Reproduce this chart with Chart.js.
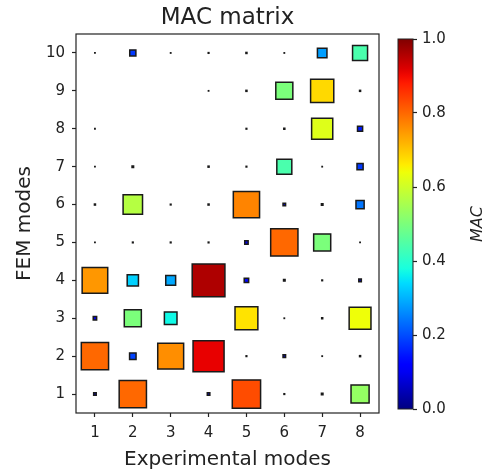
<!DOCTYPE html>
<html>
<head>
<meta charset="utf-8">
<script src="https://cdn.jsdelivr.net/npm/chart.js@4.4.0/dist/chart.umd.min.js"></script>
<style>
  html, body { margin: 0; padding: 0; background: #fff; }
  #wrap { position: relative; width: 493px; height: 473px; overflow: hidden; }
  #macChart { position: absolute; left: 0; top: 0; }
  #barChart { position: absolute; left: 380px; top: 0; }
</style>
</head>
<body>
<div id="wrap">
  <canvas id="macChart" width="380" height="473"></canvas>
  <canvas id="barChart" width="113" height="473"></canvas>
</div>
<script>
// ── data ─────────────────────────────────────────────────────────────────────
const expModes = [1, 2, 3, 4, 5, 6, 7, 8];
const femModes = [1, 2, 3, 4, 5, 6, 7, 8, 9, 10];

// MAC value per experimental mode (1..8), one array per FEM mode
const femMode1  = [0.075, 0.80, 0,    0.075, 0.83, 0.02,  0.045, 0.53];
const femMode2  = [0.80,  0.19, 0.76, 0.91,  0.02, 0.075, 0.01,  0.03];
const femMode3  = [0.10,  0.50, 0.37, 0,     0.67, 0.01,  0.03,  0.64];
const femMode4  = [0.75,  0.33, 0.29, 0.96,  0.13, 0.045, 0.02,  0.075];
const femMode5  = [0.01,  0.02, 0.02, 0.02,  0.10, 0.80,  0.50,  0.01];
const femMode6  = [0.03,  0.57, 0.02, 0.03,  0.77, 0.075, 0.045, 0.24];
const femMode7  = [0.01,  0.045, 0,   0.03,  0.02, 0.44,  0.01,  0.18];
const femMode8  = [0.01,  0,    0,    0,     0.02, 0.03,  0.62,  0.15];
const femMode9  = [0,     0,    0,    0.01,  0.03, 0.50,  0.68,  0.03];
const femMode10 = [0.01,  0.18, 0.01, 0.02,  0.03, 0.01,  0.28,  0.44];
const macRows = [femMode1, femMode2, femMode3, femMode4, femMode5,
                 femMode6, femMode7, femMode8, femMode9, femMode10];

const cbTicks = [0, 0.2, 0.4, 0.6, 0.8, 1.0];

// ── helpers ──────────────────────────────────────────────────────────────────
const FONT = 'DejaVu Sans';
const INK  = '#222';

// matplotlib "jet"
const JET_R = [[0, 0], [0.35, 0], [0.66, 1], [0.89, 1], [1, 0.5]];
const JET_G = [[0, 0], [0.125, 0], [0.375, 1], [0.64, 1], [0.91, 0], [1, 0]];
const JET_B = [[0, 0.5], [0.11, 1], [0.34, 1], [0.65, 0], [1, 0]];

function _seg(pts, v) {
  for (let i = 1; i < pts.length; i++) {
    if (v <= pts[i][0]) {
      const [x0, y0] = pts[i - 1], [x1, y1] = pts[i];
      return y0 + (y1 - y0) * (v - x0) / (x1 - x0);
    }
  }
  return pts[pts.length - 1][1];
}

function jet(v) {
  v = Math.min(1, Math.max(0, v));
  const c = [JET_R, JET_G, JET_B].map(p => Math.round(_seg(p, v) * 255));
  return `rgb(${c[0]},${c[1]},${c[2]})`;
}

const points = [];
macRows.forEach((row, i) => row.forEach((v, j) => {
  if (v > 0) points.push({ x: expModes[j], y: femModes[i], v });
}));

function _fixedTicks(list) {
  return scale => { scale.ticks = list.map(v => ({ value: v })); };
}

// ── plugins ──────────────────────────────────────────────────────────────────
const framePlugin = {
  id: 'frame',
  afterDatasetsDraw(chart) {
    const { ctx, chartArea: a } = chart;
    ctx.save();
    ctx.strokeStyle = INK;
    ctx.lineWidth = 1.2;
    ctx.strokeRect(a.left, a.top, a.right - a.left, a.bottom - a.top);
    ctx.restore();
  },
};

const plotTitle = {
  id: 'plotTitle',
  afterDraw(chart) {
    const { ctx, chartArea: a } = chart;
    ctx.save();
    ctx.fillStyle = INK;
    ctx.font = `23px "${FONT}"`;
    ctx.textAlign = 'center';
    ctx.textBaseline = 'alphabetic';
    ctx.fillText('MAC matrix', (a.left + a.right) / 2, 24);
    ctx.restore();
  },
};

const colorBar = {
  id: 'colorBar',
  beforeDatasetsDraw(chart) {
    const { ctx, chartArea: a } = chart;
    const grad = ctx.createLinearGradient(0, a.bottom, 0, a.top);
    for (let i = 0; i <= 50; i++) grad.addColorStop(i / 50, jet(i / 50));
    ctx.save();
    ctx.fillStyle = grad;
    ctx.fillRect(a.left, a.top, a.right - a.left, a.bottom - a.top);
    ctx.strokeStyle = INK;
    ctx.lineWidth = 1;
    ctx.strokeRect(a.left, a.top, a.right - a.left, a.bottom - a.top);
    // colorbar label
    ctx.translate(98, (a.top + a.bottom) / 2);
    ctx.rotate(-Math.PI / 2);
    ctx.fillStyle = INK;
    ctx.font = `italic 16px "${FONT}"`;
    ctx.textAlign = 'center';
    ctx.textBaseline = 'middle';
    ctx.fillText('MAC', 0, 0);
    ctx.restore();
  },
};

// ── charts ───────────────────────────────────────────────────────────────────
Chart.defaults.font.family = FONT;
Chart.defaults.color = INK;

const tickGrid = {
  display: true,
  drawOnChartArea: false,
  drawTicks: true,
  tickLength: 4,
  tickColor: INK,
  tickWidth: 1.2,
};

new Chart(document.getElementById('macChart'), {
  type: 'scatter',
  data: {
    datasets: [{
      data: points,
      pointStyle: 'rect',
      // square side grows with the MAC value, scaled from one axis unit
      pointRadius: ctx => {
        if (!ctx.raw) return 0;
        const xs   = ctx.chart.scales.x;
        const cell = Math.abs(xs.getPixelForValue(1) - xs.getPixelForValue(0));
        return (ctx.raw.v * cell * 0.9) / Math.SQRT2;
      },
      backgroundColor: ctx => ctx.raw ? jet(ctx.raw.v) : '#000',
      borderColor: '#1a1a1a',
      borderWidth: 1.5,
    }],
  },
  options: {
    responsive: false,
    devicePixelRatio: 1,
    animation: false,
    events: [],
    layout: { padding: { top: 34, right: 1, left: 0, bottom: 0 } },
    plugins: {
      legend:  { display: false },
      tooltip: { enabled: false },
      title:   { display: false },
    },
    scales: {
      x: {
        type: 'linear',
        min: 0.5,
        max: 8.5,
        afterBuildTicks: _fixedTicks(expModes),
        afterFit: s => { s.height = 60; },
        grid: tickGrid,
        border: { display: false },
        ticks: { font: { size: 15 }, color: INK, padding: 7, maxRotation: 0, autoSkip: false },
        title: {
          display: true, text: 'Experimental modes', color: INK,
          font: { size: 20 }, padding: { top: 0, bottom: 1 },
        },
      },
      y: {
        type: 'linear',
        min: 0.5,
        max: 10.5,
        afterBuildTicks: _fixedTicks(femModes),
        afterFit: s => { s.width = 76; },
        grid: tickGrid,
        border: { display: false },
        ticks: { font: { size: 15 }, color: INK, padding: 7, autoSkip: false },
        title: {
          display: true, text: 'FEM modes', color: INK,
          font: { size: 20 }, padding: { top: 13, bottom: 0 },
        },
      },
    },
  },
  plugins: [framePlugin, plotTitle],
});

new Chart(document.getElementById('barChart'), {
  type: 'scatter',
  data: { datasets: [{ data: [] }] },
  options: {
    responsive: false,
    devicePixelRatio: 1,
    animation: false,
    events: [],
    layout: { padding: { top: 39, right: 0, left: 18, bottom: 64 } },
    plugins: {
      legend:  { display: false },
      tooltip: { enabled: false },
    },
    scales: {
      x: { display: false, min: 0, max: 1 },
      y: {
        position: 'right',
        min: 0,
        max: 1,
        afterBuildTicks: _fixedTicks(cbTicks),
        afterFit: s => { s.width = 80; },
        grid: tickGrid,
        border: { display: false },
        ticks: {
          font: { size: 15 }, color: INK, padding: 5,
          callback: v => Number(v).toFixed(1),
        },
      },
    },
  },
  plugins: [colorBar],
});
</script>
</body>
</html>
